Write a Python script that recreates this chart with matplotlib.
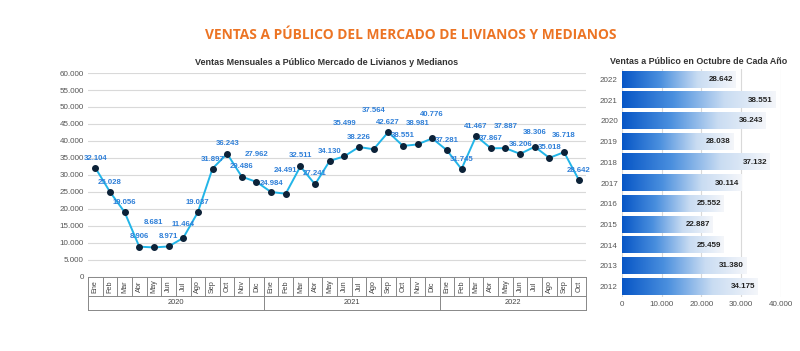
import numpy as np
import matplotlib
matplotlib.use("Agg")
import matplotlib.pyplot as plt
from matplotlib.colors import LinearSegmentedColormap
from matplotlib.ticker import FuncFormatter

plt.rcParams["font.family"] = ["Liberation Sans", "DejaVu Sans"]

# ── data ──────────────────────────────────────────────────────────────────────
MESES = ["Ene", "Feb", "Mar", "Abr", "May", "Jun",
         "Jul", "Ago", "Sep", "Oct", "Nov", "Dic"]
ANIOS = ["2020", "2021", "2022"]
VENTAS_2020 = [32104, 25028, 19056, 8906, 8681, 8971, 11464, 19037, 31897, 36243, 29486, 27962]
VENTAS_2021 = [24984, 24491, 32511, 27241, 34130, 35499, 38226, 37564, 42627, 38551, 38981, 40776]
VENTAS_2022 = [37281, 31745, 41467, 37867, 37887, 36206, 38306, 35018, 36718, 28642]

ANIOS_OCT = ["2012", "2013", "2014", "2015", "2016", "2017",
             "2018", "2019", "2020", "2021", "2022"]
VENTAS_OCT = [34175, 31380, 25459, 22887, 25552, 30114, 37132, 28038, 36243, 38551, 28642]

# pixel offsets of the value labels above each point (style only)
LABEL_DY = [6, 6, 6, 7, 21, 6, 10, 6, 6, 7, 7, 24,
            5, 20, 7, 7, 6, 29, 6, 35, 6, 7, 17, 20,
            6, 6, 6, 6, 18, 6, 11, 7, 13, 6]

ventas = VENTAS_2020 + VENTAS_2021 + VENTAS_2022
meses = (MESES * 3)[:len(ventas)]
n_por_anio = [len(VENTAS_2020), len(VENTAS_2021), len(VENTAS_2022)]

fmt = FuncFormatter(lambda v, p: f"{int(v):,}".replace(",", "."))
miles = lambda v: f"{v:,}".replace(",", ".")

fig = plt.figure(figsize=(8, 3.51), dpi=100)
fig.text(0.514, 0.90, "VENTAS A PÚBLICO DEL MERCADO DE LIVIANOS Y MEDIANOS",
         ha="center", va="center", fontsize=9.9, fontweight="bold",
         color="#EC7424", family=["Open Sans", "DejaVu Sans"])

# ── line chart ────────────────────────────────────────────────────────────────
ax = fig.add_axes([0.11, 0.211, 0.6225, 0.581])
x = np.arange(len(ventas))
ax.plot(x, ventas, color="#22B5E8", linewidth=1.4, zorder=2)
ax.scatter(x, ventas, s=16, color="#0C2238", zorder=3)
for xi, v, dy in zip(x, ventas, LABEL_DY):
    ax.annotate(miles(v), (xi, v), xytext=(0, dy), textcoords="offset pixels",
                ha="center", va="bottom", fontsize=5.6, fontweight="bold",
                color="#2E7FD8", zorder=4)
ax.set_xlim(-0.5, len(ventas) - 0.5)
ax.set_ylim(0, 60000)
ax.set_yticks(np.arange(0, 60001, 5000))
ax.yaxis.set_major_formatter(fmt)
ax.tick_params(axis="y", labelsize=5.8, colors="#555555", length=0, pad=3)
ax.set_xticks([])
ax.grid(axis="y", color="#d9d9d9", linewidth=0.8)
ax.set_axisbelow(True)
for s in ax.spines.values():
    s.set_visible(False)
ax.set_title("Ventas Mensuales a Público Mercado de Livianos y Medianos",
             fontsize=6.5, fontweight="bold", color="#333333", pad=6, x=0.48)

# category box under the line chart
tr = ax.get_xaxis_transform()
row1, row2 = -0.093, -0.162
kw = dict(color="#888888", linewidth=0.7, clip_on=False, transform=tr)
ax.plot([-0.5, len(ventas) - 0.5], [0, 0], **kw)
ax.plot([-0.5, len(ventas) - 0.5], [row1, row1], **kw)
ax.plot([-0.5, len(ventas) - 0.5], [row2, row2], **kw)
for i, m in enumerate(meses):
    ax.plot([i - 0.5, i - 0.5], [0, row1], **kw)
    ax.text(i, row1 / 2, m, rotation=90, ha="center", va="center",
            fontsize=5.2, color="#444444", transform=tr)
start = 0
for anio, n in zip(ANIOS, n_por_anio):
    ax.plot([start - 0.5, start - 0.5], [0, row2], **kw)
    ax.text(start + n / 2 - 0.5, (row1 + row2) / 2, anio, ha="center", va="center",
            fontsize=5.4, color="#444444", transform=tr)
    start += n
ax.plot([start - 0.5, start - 0.5], [0, row2], **kw)

# ── bar chart (October each year) ─────────────────────────────────────────────
bx = fig.add_axes([0.7775, 0.154, 0.1985, 0.649])
cmap = LinearSegmentedColormap.from_list("azul", ["#0756c6", "#4a8fde", "#c9dcf2", "#f4f6fa"])
grad = np.linspace(0, 1, 256).reshape(1, -1)
h = 0.78
for i, v in enumerate(VENTAS_OCT):
    bx.imshow(grad, cmap=cmap, aspect="auto", extent=(0, v, i - h / 2, i + h / 2),
              zorder=2, interpolation="bicubic")
    bx.text(v - 600, i, miles(v), ha="right", va="center", fontsize=5.8,
            fontweight="bold", color="#222222", zorder=3)
bx.set_xlim(0, 40000)
bx.set_ylim(-0.5, len(VENTAS_OCT) - 0.5)
bx.set_yticks(range(len(VENTAS_OCT)))
bx.set_yticklabels(ANIOS_OCT)
bx.set_xticks(np.arange(0, 40001, 10000))
bx.xaxis.set_major_formatter(fmt)
bx.tick_params(labelsize=5.8, colors="#555555", length=0, pad=3)
bx.grid(axis="x", color="#d9d9d9", linewidth=0.8)
bx.set_axisbelow(True)
for s in bx.spines.values():
    s.set_visible(False)
bx.set_title("Ventas a Público en Octubre de Cada Año", fontsize=6.4,
             fontweight="bold", color="#333333", pad=4, x=0.48)

fig.savefig("out.png", dpi=100)
